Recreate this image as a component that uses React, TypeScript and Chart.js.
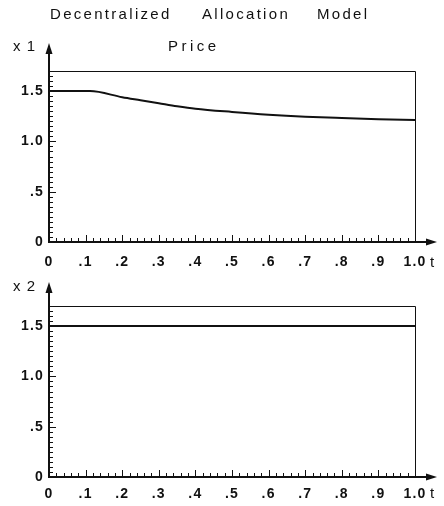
import { useEffect, useRef } from 'react';
import { Chart, registerables } from 'chart.js';

Chart.register(...registerables);

// ---- data ----
const tValues = [0, 0.112, 0.2, 0.25, 0.3, 0.35, 0.4, 0.5, 0.6, 0.7, 0.8, 0.9, 1.0];
const x1Price = [1.5, 1.5, 1.44, 1.41, 1.38, 1.35, 1.325, 1.293, 1.266, 1.246, 1.232, 1.22, 1.212];
const t2Values = [0, 1.0];
const x2Price = [1.5, 1.5];

const xTickValues = [0, 0.1, 0.2, 0.3, 0.4, 0.5, 0.6, 0.7, 0.8, 0.9, 1.0];
const xTickLabels = ['0', '.1', '.2', '.3', '.4', '.5', '.6', '.7', '.8', '.9', '1.0'];
const yTickValues = [0, 0.5, 1.0, 1.5];
const yTickLabels = ['0', '.5', '1.0', '1.5'];

const titleWords = ['Decentralized', 'Allocation', 'Model'];
const subtitle = 'Price';
const axisNames = ['x 1', 'x 2'];
const timeLabel = 't';

const FONT = "'Liberation Sans', Arial, Helvetica, sans-serif";

function labelFor(v: number, values: number[], labels: string[]) {
  for (let i = 0; i < values.length; i++) {
    if (Math.abs(v - values[i]) < 1e-6) return labels[i];
  }
  return '';
}

function isMultiple(v: number, step: number) {
  const r = v / step;
  return Math.abs(r - Math.round(r)) < 1e-6;
}

const decorPlugin = {
  id: 'decor',
  beforeDraw(chart: any) {
    chart.ctx.letterSpacing = '1.2px';
  },
  afterDraw(chart: any, _args: any, opts: any) {
    const { ctx, chartArea: a, scales } = chart;
    const xs = scales.x;
    const ys = scales.y;
    ctx.save();
    ctx.letterSpacing = '0px';
    ctx.strokeStyle = '#111';
    ctx.fillStyle = '#111';

    // frame top + right
    ctx.lineWidth = 1;
    ctx.beginPath();
    ctx.moveTo(a.left, Math.round(a.top) + 0.5);
    ctx.lineTo(Math.round(a.right) + 0.5, Math.round(a.top) + 0.5);
    ctx.lineTo(Math.round(a.right) + 0.5, a.bottom);
    ctx.stroke();

    // axes
    ctx.lineWidth = 2;
    const tipY = a.top - opts.arrowUp;
    const tipX = a.right + opts.arrowRight;
    ctx.beginPath();
    ctx.moveTo(a.left, a.bottom + 1);
    ctx.lineTo(a.left, tipY + 8);
    ctx.moveTo(a.left - 1, a.bottom);
    ctx.lineTo(tipX - 8, a.bottom);
    ctx.stroke();
    // arrowheads
    ctx.beginPath();
    ctx.moveTo(a.left, tipY);
    ctx.lineTo(a.left - 3.5, tipY + 11);
    ctx.lineTo(a.left + 3.5, tipY + 11);
    ctx.closePath();
    ctx.fill();
    ctx.beginPath();
    ctx.moveTo(tipX, a.bottom);
    ctx.lineTo(tipX - 11, a.bottom - 3.5);
    ctx.lineTo(tipX - 11, a.bottom + 3.5);
    ctx.closePath();
    ctx.fill();

    // ticks (inward)
    ctx.lineWidth = 1;
    ctx.beginPath();
    for (const t of ys.ticks) {
      const py = Math.round(ys.getPixelForValue(t.value)) + 0.5;
      const len = isMultiple(t.value, 0.5) ? 7 : 4;
      ctx.moveTo(a.left, py);
      ctx.lineTo(a.left + len, py);
    }
    for (const t of xs.ticks) {
      const px = Math.round(xs.getPixelForValue(t.value)) + 0.5;
      const len = isMultiple(t.value, 0.1) ? 7 : 4;
      ctx.moveTo(px, a.bottom);
      ctx.lineTo(px, a.bottom - len);
    }
    ctx.stroke();

    // texts
    ctx.textBaseline = 'middle';
    ctx.textAlign = 'left';
    for (const t of opts.texts || []) {
      ctx.font = `${t.weight || 'normal'} ${t.size}px ${FONT}`;
      ctx.letterSpacing = `${t.ls}px`;
      ctx.fillText(t.text, t.x, t.y);
    }
    ctx.restore();
  },
};

function makeConfig(
  xs: number[],
  ys: number[],
  padTop: number,
  axisHeight: number,
  labelPad: number,
  decor: any
): any {
  return {
    type: 'line',
    data: {
      datasets: [
        {
          data: xs.map((x, i) => ({ x, y: ys[i] })),
          borderColor: '#111',
          borderWidth: 2,
          pointRadius: 0,
          cubicInterpolationMode: 'monotone',
          fill: false,
        },
      ],
    },
    options: {
      animation: false,
      responsive: false,
      events: [],
      layout: { padding: { top: padTop, right: 29, left: 0, bottom: 0 } },
      plugins: {
        legend: { display: false },
        tooltip: { enabled: false },
        title: { display: false },
        decor,
      },
      scales: {
        x: {
          type: 'linear',
          min: 0,
          max: 1,
          grid: { display: false, drawTicks: false },
          border: { display: false },
          afterFit: (s: any) => {
            s.height = axisHeight;
          },
          ticks: {
            stepSize: 0.02,
            autoSkip: false,
            maxRotation: 0,
            minRotation: 0,
            padding: labelPad,
            color: '#111',
            font: { family: FONT, size: 14, weight: 'bold' },
            callback: (v: number) => labelFor(v, xTickValues, xTickLabels),
          },
        },
        y: {
          type: 'linear',
          min: 0,
          max: 1.7,
          grid: { display: false, drawTicks: false },
          border: { display: false },
          afterFit: (s: any) => {
            s.width = 49;
          },
          ticks: {
            stepSize: 0.05,
            autoSkip: false,
            padding: 5,
            color: '#111',
            font: { family: FONT, size: 14, weight: 'bold' },
            callback: (v: number) => labelFor(v, yTickValues, yTickLabels),
          },
        },
      },
    },
    plugins: [decorPlugin],
  };
}

export default function App() {
  const topRef = useRef<HTMLCanvasElement | null>(null);
  const botRef = useRef<HTMLCanvasElement | null>(null);

  useEffect(() => {
    const top = new Chart(
      topRef.current as HTMLCanvasElement,
      makeConfig(tValues, x1Price, 71, 30, 12, {
        arrowUp: 28,
        arrowRight: 22,
        texts: [
          { text: titleWords[0], x: 50, y: 15, size: 15, ls: 2.3 },
          { text: titleWords[1], x: 202, y: 15, size: 15, ls: 2.3 },
          { text: titleWords[2], x: 317, y: 15, size: 15, ls: 2.3 },
          { text: subtitle, x: 168, y: 47, size: 15, ls: 3.5 },
          { text: axisNames[0], x: 13, y: 47, size: 15, ls: 1 },
          { text: timeLabel, x: 430, y: 263, size: 15, ls: 0 },
        ],
      })
    );
    const bot = new Chart(
      botRef.current as HTMLCanvasElement,
      makeConfig(t2Values, x2Price, 34, 29, 9, {
        arrowUp: 24,
        arrowRight: 22,
        texts: [
          { text: axisNames[1], x: 13, y: 15, size: 15, ls: 1 },
          { text: timeLabel, x: 430, y: 222, size: 15, ls: 0 },
        ],
      })
    );
    return () => {
      top.destroy();
      bot.destroy();
    };
  }, []);

  return (
    <div style={{ position: 'absolute', left: 0, top: 0, width: 444, height: 506, background: '#fff' }}>
      <canvas ref={topRef} width={444} height={272} style={{ position: 'absolute', left: 0, top: 0 }} />
      <canvas ref={botRef} width={444} height={234} style={{ position: 'absolute', left: 0, top: 272 }} />
    </div>
  );
}
